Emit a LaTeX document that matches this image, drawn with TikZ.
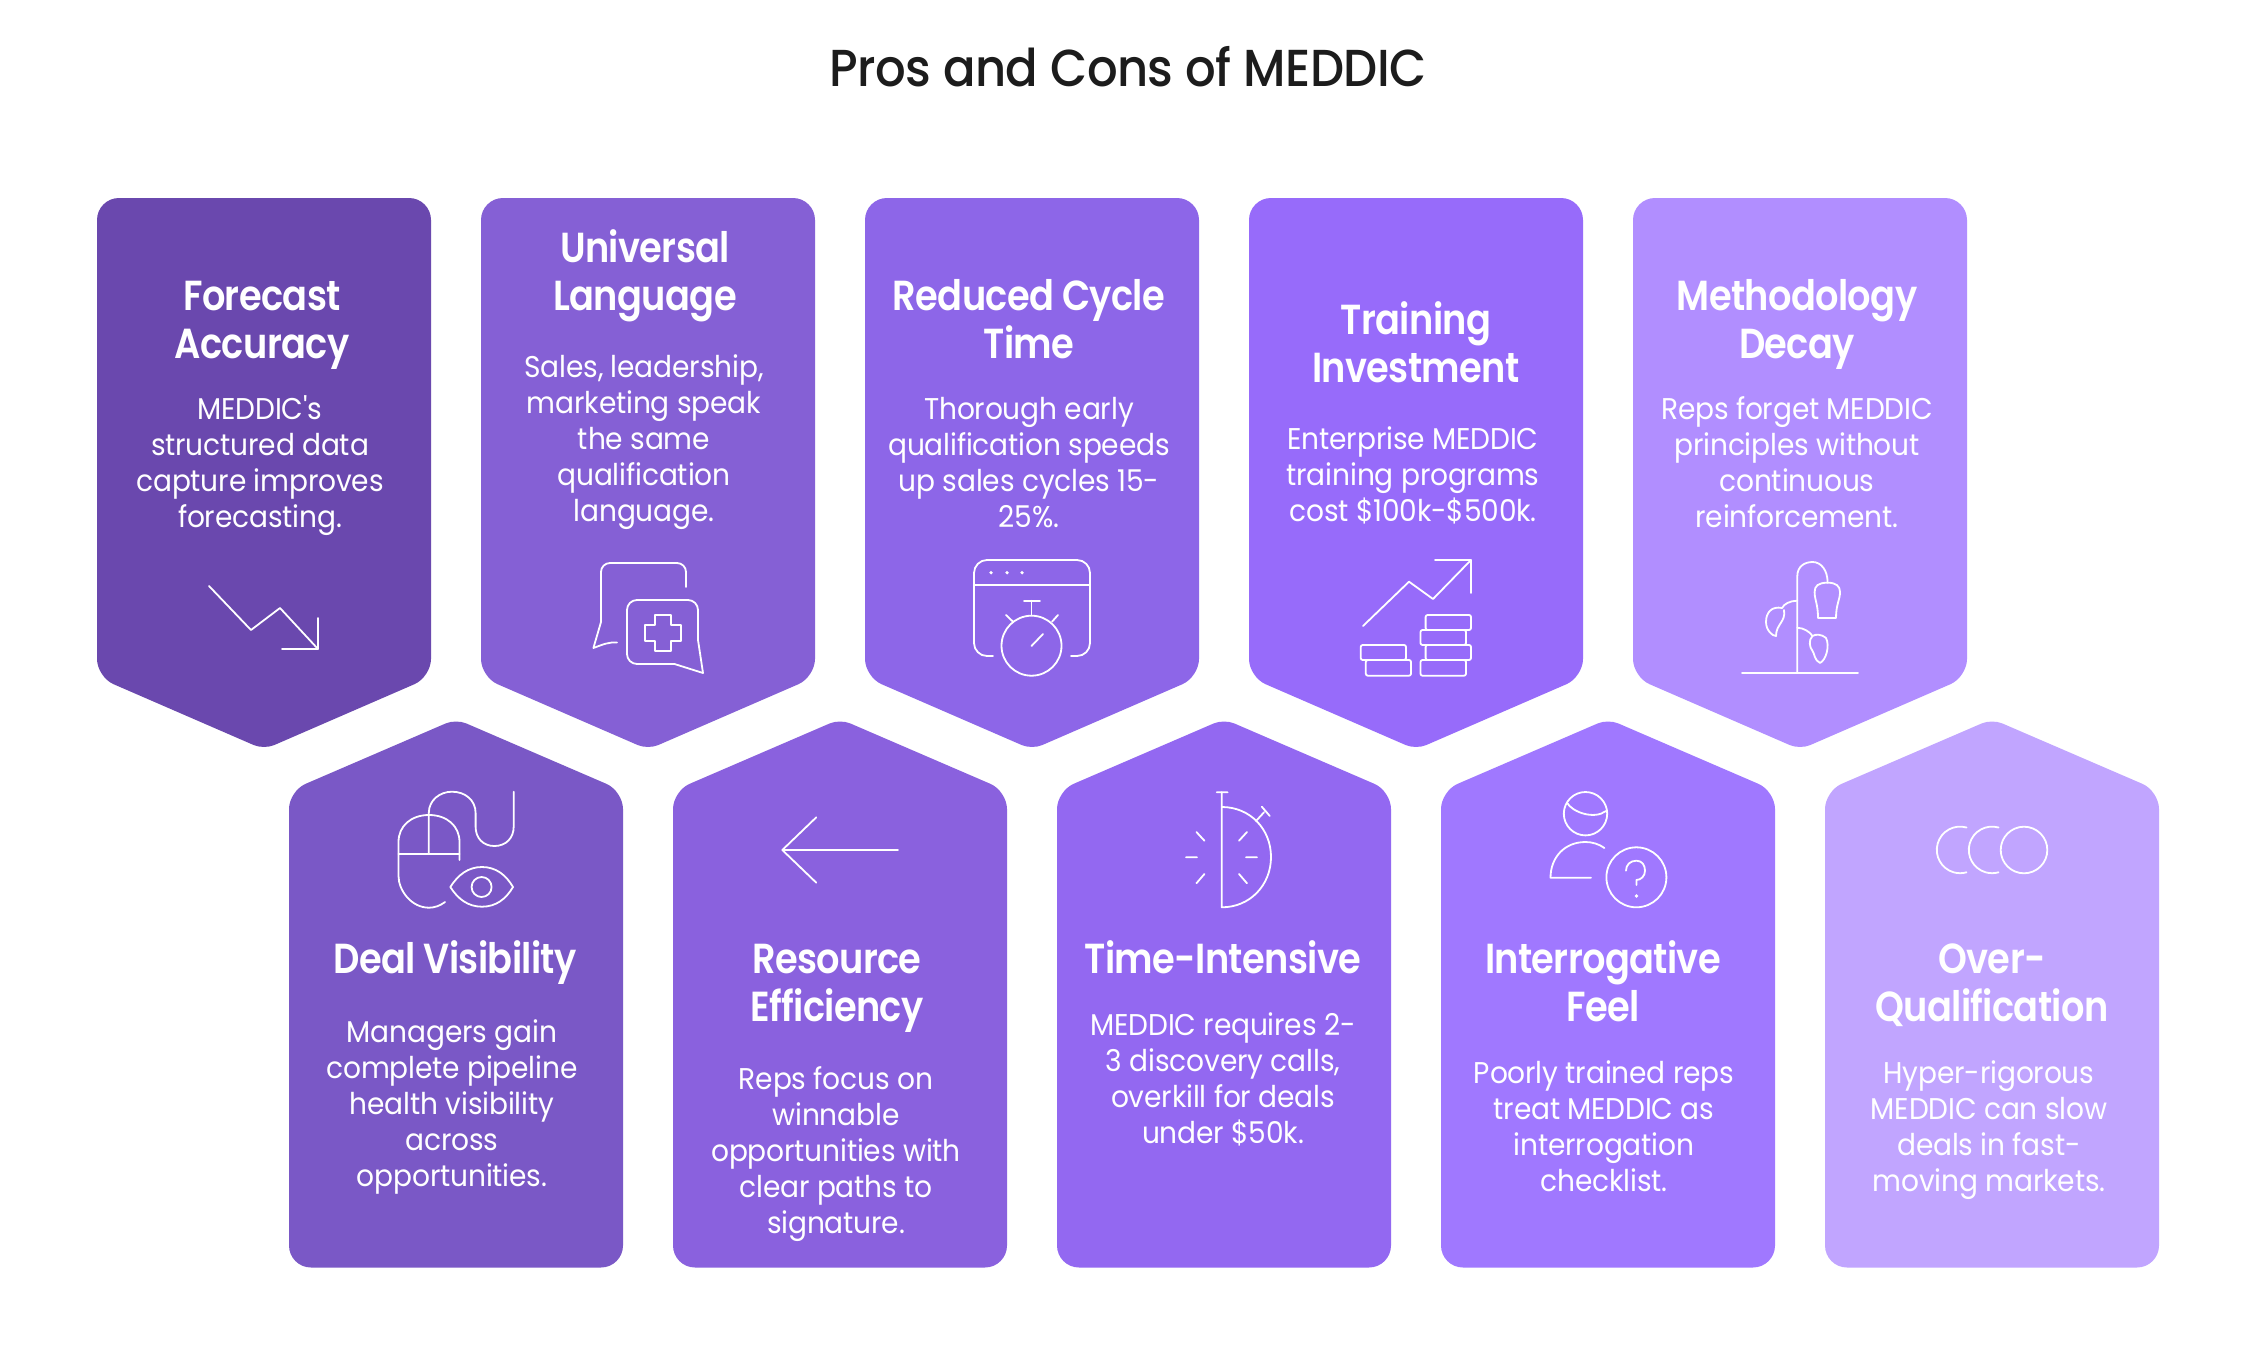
\documentclass[tikz,border=0pt]{standalone}
\usepackage{fontspec}
\setmainfont{Poppins}
\newfontfamily\titlef[FakeStretch=.925,LetterSpace=-1]{Poppins Medium}
\newfontfamily\headf[FakeStretch=.875,LetterSpace=-1.5]{Poppins SemiBold}
\newfontfamily\bodyf[FakeStretch=.935,LetterSpace=-.5]{Poppins}
\definecolor{c1}{HTML}{6A48AE}\definecolor{c2}{HTML}{8560D5}\definecolor{c3}{HTML}{8D66E8}\definecolor{c4}{HTML}{976BFA}\definecolor{c5}{HTML}{B18EFF}
\definecolor{d1}{HTML}{7A58C6}\definecolor{d2}{HTML}{8A61DE}\definecolor{d3}{HTML}{9368F1}\definecolor{d4}{HTML}{A078FF}\definecolor{d5}{HTML}{C1A5FF}
\definecolor{titleink}{HTML}{1C1C1C}
\tikzset{
  x=1pt,y=-1pt,
  headtext/.style={anchor=north,inner sep=0pt,align=center,text=white,font=\headf\fontsize{42}{48}\selectfont},
  bodytext/.style={anchor=north,inner sep=0pt,align=center,text=white,font=\bodyf\fontsize{30}{36}\selectfont},
  icon/.style={draw=white,line width=1.8pt,line cap=round,line join=round},
}
\newcommand\headat[4]{\node[headtext] (#1) at (#2,#3-33.6) {\strut #4};}
\newcommand\bodyat[4]{\node[bodytext] (#1) at (#2,#3-25.2) {\strut #4};}
\newcommand\downcard[2]{\fill[#2,rounded corners=22pt] (#1+167,198) -- (#1+334,198) [rounded corners=18pt] -- (#1+334,677) [rounded corners=11pt] -- (#1+167,749.5) [rounded corners=18pt] -- (#1,677) [rounded corners=22pt] -- (#1,198) -- cycle;}
\newcommand\upcard[2]{\fill[#2,rounded corners=22pt] (#1+167,1267.5) -- (#1,1267.5) [rounded corners=18pt] -- (#1,791) [rounded corners=11pt] -- (#1+167,719) [rounded corners=18pt] -- (#1+334,791) [rounded corners=22pt] -- (#1+334,1267.5) -- cycle;}
\begin{document}
\begin{tikzpicture}
\useasboundingbox (0,0) rectangle (2256,1364.5);
\fill[white] (0,0) rectangle (2256,1364.5);
\node[anchor=base,inner sep=0pt,text=titleink,font=\titlef\fontsize{52}{60}\selectfont] (title) at (1128,87) {Pros and Cons of MEDDIC};
\downcard{97}{c1}\downcard{481}{c2}\downcard{865}{c3}\downcard{1249}{c4}\downcard{1633}{c5}
\upcard{289}{d1}\upcard{673}{d2}\upcard{1057}{d3}\upcard{1441}{d4}\upcard{1825}{d5}
\headat{h1}{262}{310}{Forecast\\Accuracy}
\bodyat{b1}{260}{419.5}{MEDDIC's\\structured data\\capture improves\\forecasting.}
\headat{h2}{645}{262}{Universal\\Language}
\bodyat{b2}{644}{377.5}{Sales, leadership,\\marketing speak\\the same\\qualification\\language.}
\headat{h3}{1029}{310}{Reduced Cycle\\Time}
\bodyat{b3}{1029}{419.5}{Thorough early\\qualification speeds\\up sales cycles 15-\\25\%.}
\headat{h4}{1416}{334}{Training\\Investment}
\bodyat{b4}{1413}{449.5}{Enterprise MEDDIC\\training programs\\cost \$100k-\$500k.}
\headat{h5}{1797}{310}{Methodology\\Decay}
\bodyat{b5}{1797}{419.5}{Reps forget MEDDIC\\principles without\\continuous\\reinforcement.}
\headat{h6}{455}{973}{Deal Visibility}
\bodyat{b6}{452}{1042}{Managers gain\\complete pipeline\\health visibility\\across\\opportunities.}
\headat{h7}{837}{973}{Resource\\Efficiency}
\bodyat{b7}{836}{1089.5}{Reps focus on\\winnable\\opportunities with\\clear paths to\\signature.}
\headat{h8}{1223}{973}{Time-Intensive}
\bodyat{b8}{1223}{1035.5}{MEDDIC requires 2-\\3 discovery calls,\\overkill for deals\\under \$50k.}
\headat{h9}{1603}{973}{Interrogative\\Feel}
\bodyat{b9}{1604}{1083.5}{Poorly trained reps\\treat MEDDIC as\\interrogation\\checklist.}
\headat{h10}{1992}{973}{Over-\\Qualification}
\bodyat{b10}{1989}{1083.5}{Hyper-rigorous\\MEDDIC can slow\\deals in fast-\\moving markets.}
% icon 1: trend down
\draw[icon] (209,586) -- (251,630) -- (280,608) -- (318,649);
\draw[icon] (318,618) -- (318,649) -- (282,649);
% icon 2: chat with cross
\draw[icon,rounded corners=9pt] (686,587) -- (686,563) -- (601,563) -- (601,600);
\draw[icon] (601,600) -- (601,622) -- (593.4,648) .. controls (604,644) and (609,642) .. (617,642.5);
\draw[icon,rounded corners=10pt] (698,640) -- (698,600) -- (627,600) -- (627,664) -- (660,664);
\draw[icon] (660,664) -- (674.5,664) -- (703,673) -- (698,640);
\draw[icon] (655,615) -- (671,615) -- (671,625) -- (681,625) -- (681,641) -- (671,641) -- (671,651) -- (655,651) -- (655,641) -- (645,641) -- (645,625) -- (655,625) -- cycle;
% icon 3: window + stopwatch
\draw[icon,rounded corners=13pt] (993,656) -- (974,656) -- (974,560) -- (1090,560) -- (1090,656) -- (1071,656);
\draw[icon] (974,585) -- (1090,585);
\fill[white] (991,572.7) circle (1.8) (1007,572.7) circle (1.8) (1022,572.7) circle (1.8);
\draw[icon] (1031.5,645.7) circle (30);
\draw[icon] (1031.5,615) -- (1031.5,600.7) (1024,600.7) -- (1040,600.7);
\draw[icon] (1006,615) -- (1013,621.7) (1058,615) -- (1052,621.7);
\draw[icon] (1031.5,646) -- (1043,634);
% icon 4: trend up + coins
\draw[icon] (1363,626) -- (1409,581.7) -- (1433,599) -- (1471,560);
\draw[icon] (1435,560) -- (1471,560) -- (1471,593);
\draw[icon,rounded corners=2pt] (1425.6,615) rectangle (1471,630) (1420.5,630) rectangle (1466,645) (1425.6,645) rectangle (1471,660) (1420.5,660) rectangle (1466,675.7) (1360.7,645) rectangle (1406,660) (1365.8,660) rectangle (1411,675.7);
% icon 5: plant
\draw[icon] (1742,672.7) -- (1858,672.7);
\draw[icon] (1797.3,672.7) -- (1797.3,576) .. controls (1797.3,567) and (1804,562) .. (1812.5,562) .. controls (1821,562) and (1827.6,570) .. (1827.6,582.7);
\draw[icon] (1827.6,582.7) .. controls (1818,582.7) and (1814.6,586) .. (1814.6,592) .. controls (1814.6,600) and (1818,604) .. (1818,618) -- (1836,618) .. controls (1836,604) and (1840,600) .. (1840,592) .. controls (1840,586) and (1836,582.7) .. (1827.6,582.7);
\draw[icon] (1797.3,600.7) .. controls (1790,600.7) and (1784,604) .. (1782,608) .. controls (1772,606) and (1766,612) .. (1766,622) .. controls (1766,630) and (1772,636) .. (1776,636) .. controls (1776,624) and (1786,622) .. (1784,610);
\draw[icon] (1797.3,627.7) .. controls (1804,628) and (1810,632) .. (1812.5,636) .. controls (1808,640) and (1810,648) .. (1812,650) .. controls (1815,654) and (1814,660) .. (1820,663) .. controls (1826,660) and (1830,646) .. (1826,638) .. controls (1822,634) and (1815,634) .. (1812.5,636);
% icon 6: mouse + eye
\draw[icon] (445,902) .. controls (440,906) and (434,907.7) .. (429,907.7) .. controls (411,907.7) and (398.5,890) .. (398.5,876) -- (398.5,842) .. controls (398.5,826) and (411,815) .. (429,815) .. controls (447,815) and (459.5,826) .. (459.5,842) -- (459.5,860);
\draw[icon] (398.5,853.7) -- (459.5,853.7);
\draw[icon] (428.8,853.7) -- (428.8,813) .. controls (428.8,800) and (440,791.7) .. (452,791.7) .. controls (465,791.7) and (475.6,800) .. (475.6,813) -- (475.6,826.7) .. controls (475.6,838) and (483,846) .. (494.4,846) .. controls (506,846) and (513.7,838) .. (513.7,826.7) -- (513.7,791.7);
\draw[icon] (450.3,887) .. controls (458,875) and (468,867) .. (482,867) .. controls (496,867) and (506,875) .. (513,887) .. controls (506,899) and (496,906.7) .. (482,906.7) .. controls (468,906.7) and (458,899) .. (450.3,887) -- cycle;
\draw[icon] (481.6,887) circle (10);
% icon 7: arrow left
\draw[icon] (898,850) -- (782.3,850) (816.3,817.3) -- (782.3,850) -- (816.3,882.7);
% icon 8: half stopwatch
\draw[icon] (1221.8,792.3) -- (1221.8,907.3) .. controls (1250,907.3) and (1271,885) .. (1271,857) .. controls (1271,829) and (1250,807) .. (1221.8,807);
\draw[icon] (1216.7,792.3) -- (1227.6,792.3) (1256,821) -- (1264,812.3) (1261.8,806.7) -- (1269.8,816);
\draw[icon] (1239,840.7) -- (1247,832) (1246,857.3) -- (1257,857.3) (1239,874) -- (1247,883.3);
\draw[icon] (1196.4,832) -- (1204.4,840.7) (1186,857.3) -- (1197,857.3) (1204.4,874) -- (1196.4,883.3);
% icon 9: person + question
\draw[icon] (1585.5,813.7) circle (21.7);
\draw[icon] (1567,802.7) .. controls (1572,812) and (1594,820) .. (1606,811);
\draw[icon] (1604.4,848) .. controls (1599,844) and (1592,842) .. (1585.5,842) .. controls (1564,842) and (1550.5,858) .. (1550.5,877.7) -- (1591,877.7);
\draw[icon] (1636.4,877.3) circle (30);
\draw[icon] (1626,870.7) .. controls (1626,865) and (1630,860.7) .. (1636.4,860.7) .. controls (1642,860.7) and (1645,865) .. (1645,870.7) .. controls (1645,876) and (1641,880) .. (1636.4,880) -- (1636.4,885);
\fill[white] (1636.4,896) circle (1.9);
% icon 10: CCO
\draw[icon] (2024,850) circle (23.3);
\draw[icon] (1998.5,827.5) arc[start angle=-74,end angle=-286,radius=23.3];
\draw[icon] (1966.5,827.5) arc[start angle=-74,end angle=-286,radius=23.3];
\end{tikzpicture}
\end{document}
